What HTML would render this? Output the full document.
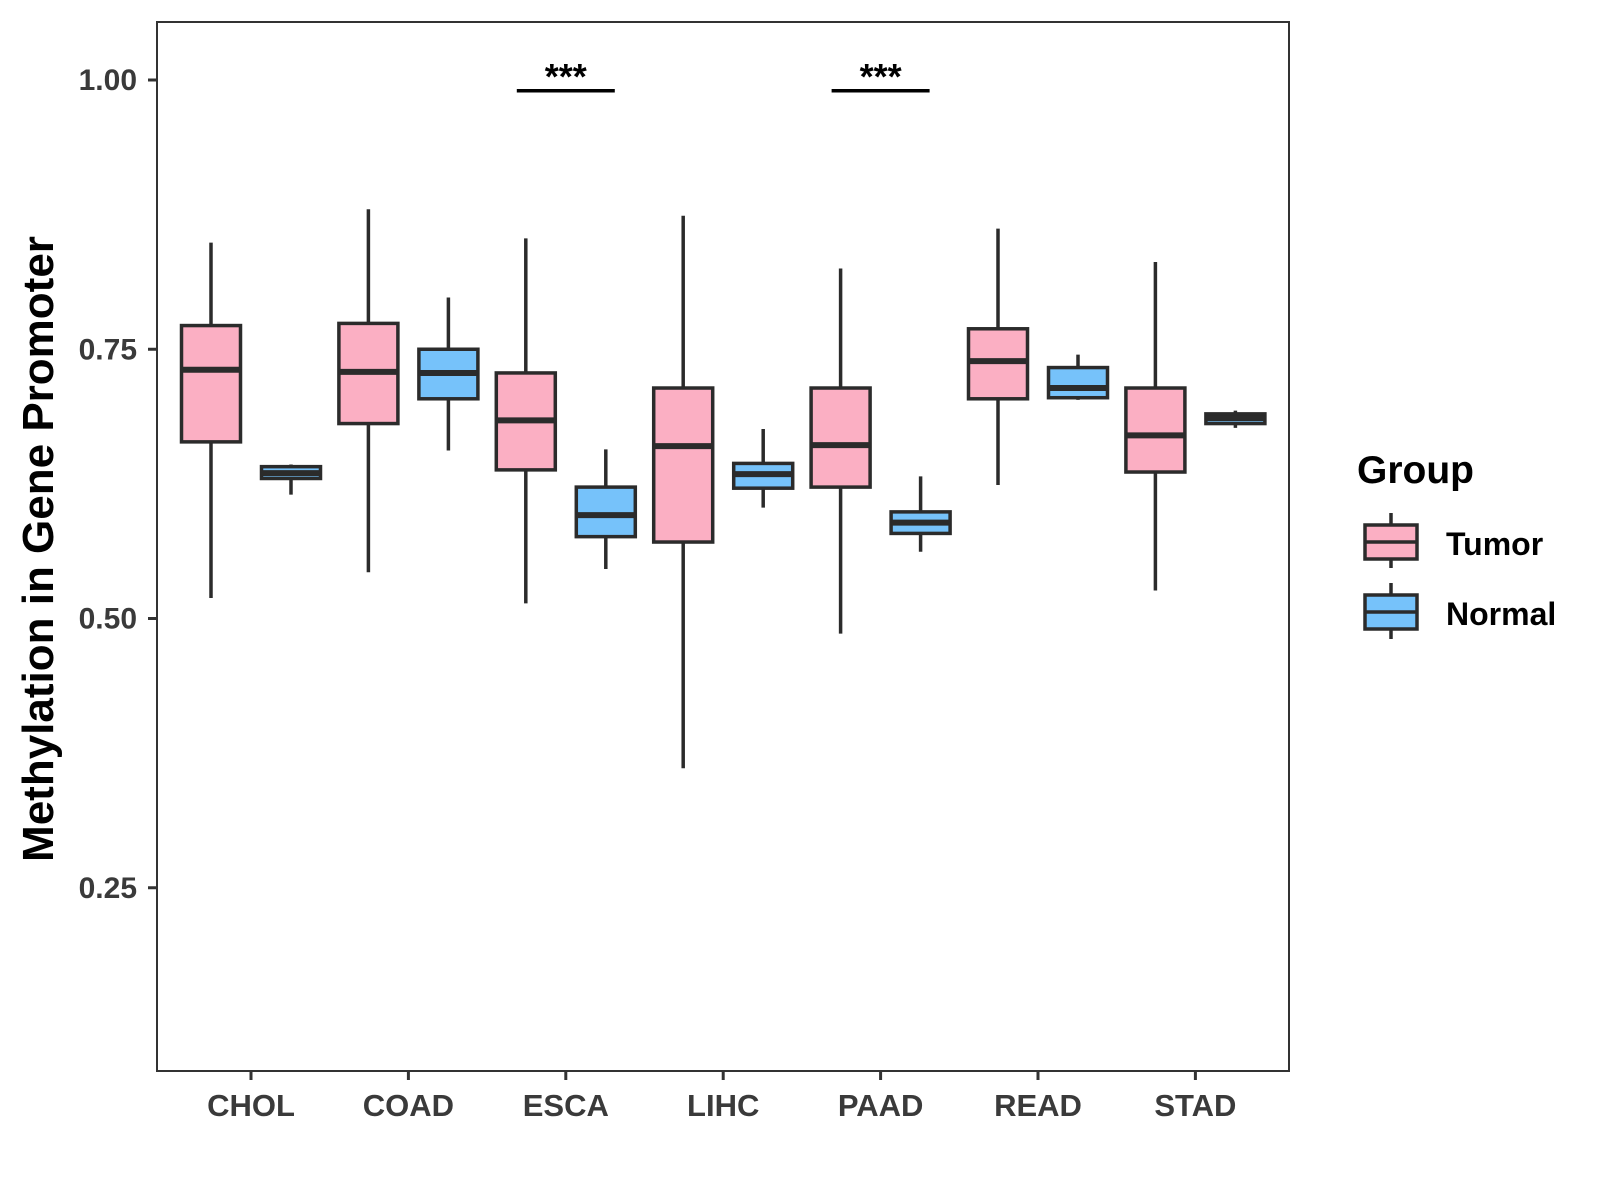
<!DOCTYPE html>
<html><head><meta charset="utf-8"><style>
html,body{margin:0;padding:0;background:#fff;}
svg{display:block;font-family:"Liberation Sans",Arial,sans-serif;}
</style></head><body>
<svg id="chart" width="1600" height="1200" viewBox="0 0 1600 1200">
<rect x="0" y="0" width="1600" height="1200" fill="#fff"/>
<g id="marks"></g>
<rect x="157" y="22" width="1132" height="1049" fill="none" stroke="#333" stroke-width="2"/>
<g id="axes"></g>
<text transform="translate(53,549) rotate(-90)" text-anchor="middle" font-size="44" font-weight="bold" fill="#000">Methylation in Gene Promoter</text>
<g>
<text x="1357" y="483" font-size="39" font-weight="bold" fill="#000">Group</text>
<g>
<line x1="1391" y1="513" x2="1391" y2="568" stroke="#2b2b2b" stroke-width="3.5"/>
<rect x="1365" y="525" width="52" height="34" fill="#fbafc3" stroke="#2b2b2b" stroke-width="3.5"/>
<line x1="1365" y1="542" x2="1417" y2="542" stroke="#2b2b2b" stroke-width="3.5"/>
<text x="1446" y="555" font-size="32" font-weight="bold" fill="#000">Tumor</text>
</g>
<g>
<line x1="1391" y1="583" x2="1391" y2="639" stroke="#2b2b2b" stroke-width="3.5"/>
<rect x="1365" y="595" width="52" height="34" fill="#76c2fa" stroke="#2b2b2b" stroke-width="3.5"/>
<line x1="1365" y1="612" x2="1417" y2="612" stroke="#2b2b2b" stroke-width="3.5"/>
<text x="1446" y="625" font-size="32" font-weight="bold" fill="#000">Normal</text>
</g>
</g>
</svg>
<script>
const categories = ["CHOL","COAD","ESCA","LIHC","PAAD","READ","STAD"];
// [min, q1, median, q3, max]
const tumorStats = [
 [0.519,0.664,0.731,0.772,0.849],
 [0.543,0.681,0.729,0.774,0.880],
 [0.514,0.638,0.684,0.728,0.853],
 [0.361,0.571,0.660,0.714,0.874],
 [0.486,0.622,0.661,0.714,0.825],
 [0.624,0.704,0.739,0.769,0.862],
 [0.526,0.636,0.670,0.714,0.831]
];
const normalStats = [
 [0.615,0.630,0.635,0.641,0.643],
 [0.656,0.704,0.728,0.750,0.798],
 [0.546,0.576,0.596,0.622,0.657],
 [0.603,0.621,0.634,0.644,0.676],
 [0.562,0.579,0.589,0.599,0.632],
 [0.703,0.705,0.714,0.733,0.745],
 [0.677,0.681,0.686,0.690,0.693]
];
const yTicks = [0.25,0.50,0.75,1.00];
const yTickLabels = ["0.25","0.50","0.75","1.00"];
const sigCategories = ["ESCA","PAAD"];
const sigLabels = ["***","***"];
const sigLevel = 0.99;

const NS="http://www.w3.org/2000/svg";
function yScale(v){return 80+(1-v)*1077;}
function xScale(i){return 251+i*157.4;}
function mk(tag,attrs,parent){const e=document.createElementNS(NS,tag);for(const k in attrs)e.setAttribute(k,attrs[k]);parent.appendChild(e);return e;}
const marks=document.getElementById('marks');
const axes=document.getElementById('axes');
function drawBox(cx,s,fill,name){
 const g=mk('g',{},marks);
 
 
 const w=59;
 mk('line',{x1:cx,x2:cx,y1:yScale(s[4]),y2:yScale(s[0]),stroke:'#2b2b2b','stroke-width':3.5},g);
 mk('rect',{x:cx-w/2,y:yScale(s[3]),width:w,height:Math.max(yScale(s[1])-yScale(s[3]),1),fill:fill,stroke:'#2b2b2b','stroke-width':3.5},g);
 mk('line',{x1:cx-w/2,x2:cx+w/2,y1:yScale(s[2]),y2:yScale(s[2]),stroke:'#2b2b2b','stroke-width':6},g);
}
categories.forEach((c,i)=>{
 drawBox(xScale(i)-40,tumorStats[i],'#fbafc3','box-tumor-'+c.toLowerCase());
 drawBox(xScale(i)+40,normalStats[i],'#76c2fa','box-normal-'+c.toLowerCase());
 mk('line',{x1:xScale(i),x2:xScale(i),y1:1071,y2:1080,stroke:'#333','stroke-width':3},axes);
 const t=mk('text',{x:xScale(i),y:1116,'text-anchor':'middle','font-size':31,'font-weight':'bold',fill:'#3a3a3a'},axes);
 
 
 t.textContent=c;
});
yTicks.forEach((v,i)=>{
 mk('line',{x1:148,x2:157,y1:yScale(v),y2:yScale(v),stroke:'#333','stroke-width':3},axes);
 const t=mk('text',{x:137,y:yScale(v)+10,'text-anchor':'end','font-size':30,'font-weight':'bold',fill:'#3a3a3a'},axes);
 
 
 t.textContent=yTickLabels[i];
});
sigCategories.forEach((c,k)=>{
 const i=categories.indexOf(c);
 const g=mk('g',{},marks);
 
 
 mk('line',{x1:xScale(i)-49,x2:xScale(i)+49,y1:yScale(sigLevel),y2:yScale(sigLevel),stroke:'#000','stroke-width':3.5},g);
 const t=mk('text',{x:xScale(i),y:yScale(sigLevel)-2,'text-anchor':'middle','font-size':36,'font-weight':'bold',fill:'#000'},g);
 t.textContent=sigLabels[k];
});
</script>
</body></html>
